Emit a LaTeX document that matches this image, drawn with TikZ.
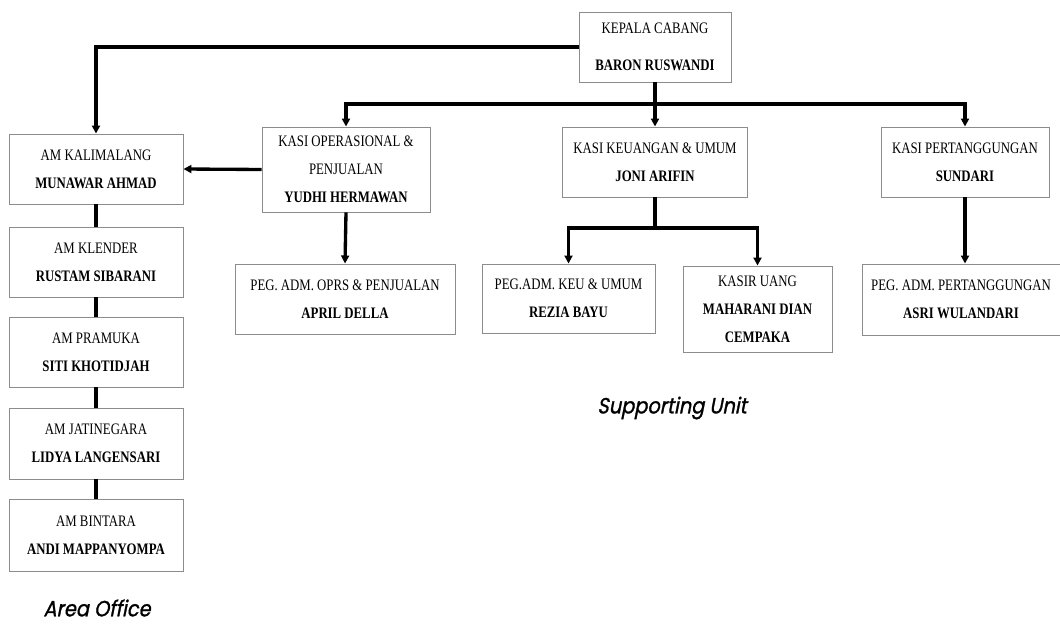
\documentclass[tikz,border=0pt]{standalone}
\usepackage{fontspec}
\setmainfont{Liberation Serif}[FakeStretch=0.8,BoldFont={Liberation Serif Bold},BoldFeatures={FakeStretch=0.8}]
\newfontfamily\geofont{Poppins}[FakeSlant=0.2,FakeStretch=0.88,FakeBold=1.2]
\usetikzlibrary{arrows.meta}
\begin{document}
\begin{tikzpicture}[x=0.75pt,y=-0.75pt,
  box/.style={draw=black!45,line width=0.7pt,rectangle,inner sep=0pt,align=center,font=\fontsize{12}{21}\selectfont},
  conn/.style={line width=2.5pt,black},
  arr/.style={conn,-{Triangle[length=6pt,width=6pt]}},
  grp/.style={font=\geofont\fontsize{16.5}{18}\selectfont}]
\useasboundingbox (0,0) rectangle (1060,624);
% nodes (box corners in px)
\node[box,minimum width=152*0.75pt,minimum height=70*0.75pt] (kc) at (655,47) {KEPALA CABANG\\[7pt]\textbf{BARON RUSWANDI}};
\node[box,minimum width=174*0.75pt,minimum height=70*0.75pt] (am1) at (96,169) {AM KALIMALANG\\\textbf{MUNAWAR AHMAD}};
\node[box,minimum width=174*0.75pt,minimum height=70*0.75pt] (am2) at (96,262) {AM KLENDER\\\textbf{RUSTAM SIBARANI}};
\node[box,minimum width=174*0.75pt,minimum height=70*0.75pt] (am3) at (96,352) {AM PRAMUKA\\\textbf{SITI KHOTIDJAH}};
\node[box,minimum width=174*0.75pt,minimum height=71*0.75pt] (am4) at (96,443.5) {AM JATINEGARA\\\textbf{LIDYA LANGENSARI}};
\node[box,minimum width=174*0.75pt,minimum height=72*0.75pt] (am5) at (96,535) {AM BINTARA\\\textbf{ANDI MAPPANYOMPA}};
\node[box,minimum width=168*0.75pt,minimum height=85*0.75pt] (ops) at (346,169.5) {KASI OPERASIONAL \&\\PENJUALAN\\\textbf{YUDHI HERMAWAN}};
\node[box,minimum width=220*0.75pt,minimum height=70*0.75pt] (pops) at (345,299) {PEG. ADM. OPRS \& PENJUALAN\\\textbf{APRIL DELLA}};
\node[box,minimum width=185*0.75pt,minimum height=70*0.75pt] (keu) at (655,162) {KASI KEUANGAN \& UMUM\\\textbf{JONI ARIFIN}};
\node[box,minimum width=173*0.75pt,minimum height=69*0.75pt] (pkeu) at (568.5,298.5) {PEG.ADM. KEU \& UMUM\\\textbf{REZIA BAYU}};
\node[box,minimum width=149*0.75pt,minimum height=86*0.75pt] (kasir) at (757.5,309) {KASIR UANG\\\textbf{MAHARANI DIAN}\\\textbf{CEMPAKA}};
\node[box,minimum width=168*0.75pt,minimum height=70*0.75pt] (pert) at (965,162) {KASI PERTANGGUNGAN\\\textbf{SUNDARI}};
\node[box,minimum width=198*0.75pt,minimum height=71*0.75pt] (ppert) at (961,299.5) {PEG. ADM. PERTANGGUNGAN\\\textbf{ASRI WULANDARI}};
\node[grp] (ao) at (97,608) {Area Office};
\node[grp] (su) at (672,408) {Supporting Unit};
% connectors
\coordinate (bus) at (655,104);
\coordinate (kbus) at (655,228);
\draw[arr] (kc.west) -| (am1.north);
\draw[conn] (kc.south) -- (bus);
\draw[arr] (bus) -| (ops.north);
\draw[arr] (bus) -- (keu.north);
\draw[arr] (bus) -| (pert.north);
\draw[arr] (ops.west) -- (am1.east);
\draw[arr] (ops.south) -- (pops.north);
\draw[conn] (keu.south) -- (kbus);
\draw[arr] (kbus) -| (pkeu.north);
\draw[arr] (kbus) -| (kasir.north);
\draw[arr] (pert.south) -- (pert.south |- ppert.north);
\draw[conn] (am1) -- (am2);
\draw[conn] (am2) -- (am3);
\draw[conn] (am3) -- (am4);
\draw[conn] (am4) -- (am5);
\end{tikzpicture}
\end{document}
